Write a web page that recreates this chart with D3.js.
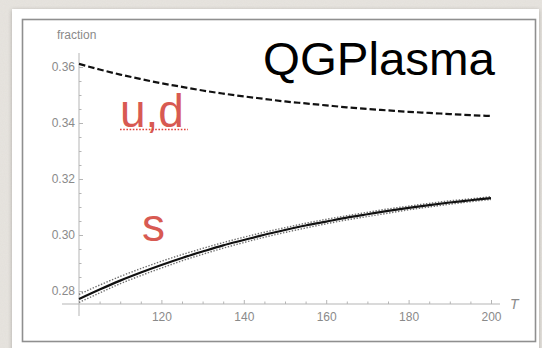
<!DOCTYPE html>
<html>
<head>
<meta charset="utf-8">
<script src="https://cdn.jsdelivr.net/npm/d3@7"></script>
<style>
  html, body { margin: 0; padding: 0; background: #e7e4df; }
  svg { display: block; }
</style>
</head>
<body>
<svg id="chart" width="542" height="348"></svg>
<script>
// Temperature grid (MeV)
const temps = [100,105,110,115,120,125,130,135,140,145,150,155,160,165,170,175,180,185,190,195,200];
// Light-quark (u,d) fraction
const udFraction = [0.3611,0.3591,0.3573,0.3557,0.3542,0.3529,0.3516,0.3505,0.3495,0.3486,0.3477,0.3470,0.3463,0.3456,0.3450,0.3445,0.3440,0.3436,0.3432,0.3428,0.3425];
// Strange-quark fraction with its band
const sFraction = [0.2771,0.2805,0.2837,0.2866,0.2893,0.2918,0.2941,0.2963,0.2982,0.3001,0.3018,0.3034,0.3048,0.3062,0.3074,0.3086,0.3097,0.3107,0.3116,0.3124,0.3132];
const sUpper = [0.2788,0.2821,0.2852,0.2880,0.2906,0.2930,0.2952,0.2973,0.2992,0.3010,0.3026,0.3042,0.3056,0.3069,0.3081,0.3093,0.3103,0.3113,0.3122,0.3129,0.3137];
const sLower = [0.2759,0.2793,0.2826,0.2855,0.2882,0.2908,0.2931,0.2953,0.2973,0.2992,0.3009,0.3025,0.3040,0.3054,0.3066,0.3078,0.3090,0.3100,0.3110,0.3119,0.3127];
// Axis ticks
const xTicks = [120,140,160,180,200];
const xMinor = [105,110,115,125,130,135,145,150,155,165,170,175,185,190,195];
const yTicks = [0.28,0.30,0.32,0.34,0.36];
const yMinor = [0.285,0.29,0.295,0.305,0.31,0.315,0.325,0.33,0.335,0.345,0.35,0.355];

const svg = d3.select("#chart");

// paper texture for the slide background
const defs = svg.append("defs");
const tex = defs.append("filter").attr("id", "paper");
tex.append("feTurbulence").attr("type", "fractalNoise").attr("baseFrequency", 0.9).attr("numOctaves", 2).attr("seed", 3).attr("result", "n");
tex.append("feColorMatrix").attr("in", "n").attr("type", "matrix")
  .attr("values", "0 0 0 0 0.55  0 0 0 0 0.53  0 0 0 0 0.5  0 0 0 0.12 0");
tex.append("feComposite").attr("in2", "SourceGraphic").attr("operator", "in");
const shadow = defs.append("filter").attr("id", "shadow").attr("x", "-5%").attr("y", "-5%").attr("width", "110%").attr("height", "110%");
shadow.append("feGaussianBlur").attr("in", "SourceAlpha").attr("stdDeviation", 2);
shadow.append("feOffset").attr("dx", 0).attr("dy", 1).attr("result", "b");
shadow.append("feComponentTransfer").append("feFuncA").attr("type", "linear").attr("slope", 0.25);
const merge = shadow.append("feMerge");
merge.append("feMergeNode");
merge.append("feMergeNode").attr("in", "SourceGraphic");

svg.append("rect").attr("width", 542).attr("height", 348).attr("fill", "#e7e4df");
svg.append("rect").attr("width", 542).attr("height", 348).attr("fill", "#e7e4df").attr("filter", "url(#paper)");

// white card and its frame
svg.append("rect").attr("x", 12).attr("y", 9).attr("width", 527).attr("height", 345)
  .attr("fill", "#ffffff").attr("filter", "url(#shadow)");
svg.append("rect").attr("x", 22.5).attr("y", 19.5).attr("width", 513).attr("height", 322)
  .attr("fill", "none").attr("stroke", "#8f8f8f").attr("stroke-width", 1.6);

const x = d3.scaleLinear().domain([100, 200]).range([79, 491]);
const y = d3.scaleLinear().domain([0.28, 0.36]).range([291, 67]);
const axisY = 304;  // where the horizontal axis sits
const axisColor = "#b5b5b5";
const labelColor = "#8a8a8a";

// axis lines (with plot-range padding)
svg.append("line").attr("x1", 62).attr("x2", 500).attr("y1", axisY).attr("y2", axisY)
  .attr("stroke", axisColor).attr("stroke-width", 1);
svg.append("line").attr("x1", 79).attr("x2", 79).attr("y1", 53).attr("y2", 316)
  .attr("stroke", axisColor).attr("stroke-width", 1);

function styleAxis(g) {
  g.select(".domain").remove();
  g.selectAll(".tick line").attr("stroke", axisColor);
  g.selectAll(".tick text").attr("fill", labelColor)
    .style("font-family", "'Liberation Sans', Arial, sans-serif").style("font-size", "12px");
}

// x axis: ticks pointing up into the plot
svg.append("g").attr("transform", `translate(0,${axisY})`)
  .call(d3.axisBottom(x).tickValues(xTicks).tickSize(-4).tickPadding(8).tickFormat(d3.format("d")))
  .call(styleAxis);
svg.append("g").attr("transform", `translate(0,${axisY})`)
  .call(d3.axisBottom(x).tickValues(xMinor).tickSize(-2.5).tickFormat(""))
  .call(styleAxis);

// y axis: ticks pointing right into the plot
svg.append("g").attr("transform", "translate(79,0)")
  .call(d3.axisLeft(y).tickValues(yTicks).tickSize(-4).tickPadding(4).tickFormat(d3.format(".2f")))
  .call(styleAxis);
svg.append("g").attr("transform", "translate(79,0)")
  .call(d3.axisLeft(y).tickValues(yMinor).tickSize(-2.5).tickFormat(""))
  .call(styleAxis);

// axis titles
svg.append("text").attr("x", 57).attr("y", 39).text("fraction")
  .attr("fill", labelColor).style("font-family", "'Liberation Sans', Arial, sans-serif").style("font-size", "12px");
svg.append("text").attr("x", 510).attr("y", 309).text("T")
  .attr("fill", labelColor).style("font-family", "'Liberation Sans', Arial, sans-serif")
  .style("font-size", "14px").style("font-style", "italic");

const line = vals => d3.line().x((d, i) => x(temps[i])).y(d => y(d)).curve(d3.curveMonotoneX)(vals);

// strange band (dotted) and central curve
svg.append("path").attr("d", line(sUpper)).attr("fill", "none")
  .attr("stroke", "#6e6e6e").attr("stroke-width", 1.4).attr("stroke-dasharray", "1.4,1.6");
svg.append("path").attr("d", line(sLower)).attr("fill", "none")
  .attr("stroke", "#6e6e6e").attr("stroke-width", 1.4).attr("stroke-dasharray", "1.4,1.6");
svg.append("path").attr("d", line(sFraction)).attr("fill", "none")
  .attr("stroke", "#111").attr("stroke-width", 2.2);

// u,d curve (dashed)
svg.append("path").attr("d", line(udFraction)).attr("fill", "none")
  .attr("stroke", "#111").attr("stroke-width", 2.2).attr("stroke-dasharray", "6.5,3");

// annotations
const red = "#d85a52";
svg.append("text").attr("x", 120).attr("y", 127).text("u,d").attr("fill", red)
  .style("font-family", "'Liberation Sans', Arial, sans-serif").style("font-size", "46px");
svg.append("line").attr("x1", 120).attr("x2", 188).attr("y1", 129.5).attr("y2", 129.5)
  .attr("stroke", "#e0443c").attr("stroke-width", 1.6).attr("stroke-dasharray", "1.6,1.6");
svg.append("text").attr("x", 142).attr("y", 241).text("s").attr("fill", red)
  .style("font-family", "'Liberation Sans', Arial, sans-serif").style("font-size", "46px");
svg.append("text").attr("x", 263).attr("y", 75).text("QGPlasma").attr("fill", "#000")
  .style("font-family", "'Liberation Sans', Arial, sans-serif").style("font-size", "47px")
  .attr("textLength", 232).attr("lengthAdjust", "spacingAndGlyphs");
</script>
</body>
</html>
